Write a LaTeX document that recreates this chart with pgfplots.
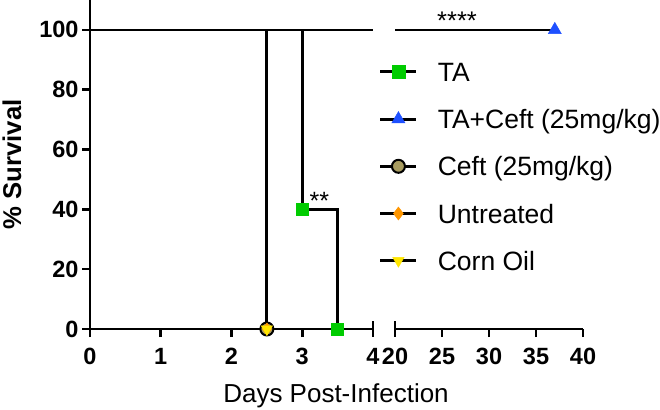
\documentclass[border=0pt]{standalone}
\usepackage{pgfplots}
\pgfplotsset{compat=1.18}
\usepackage{fontspec}
\setmainfont{Liberation Sans}
\definecolor{taGreen}{RGB}{0,204,0}
\definecolor{tcBlue}{RGB}{30,80,255}
\definecolor{ceftKhaki}{RGB}{168,156,96}
\definecolor{untOrange}{RGB}{255,150,0}
\definecolor{cornYellow}{RGB}{255,230,0}
\begin{document}
\begin{tikzpicture}
\useasboundingbox (0pt,0pt) rectangle (660pt,409pt);
\pgfplotsset{
  common/.style={
    scale only axis, ymin=0, ymax=110, clip=false,
    every tick/.style={black, line width=2.6pt},
    major tick length=8pt,
    xticklabel shift=8pt,
    /pgf/number format/assume math mode=true,
    tick label style={font=\fontsize{23.5}{25}\selectfont\bfseries},
    data/.style={black, line width=2.8pt, line join=miter},
  }
}
% ---------------- left segment (0-4 days)
\begin{axis}[common, at={(90pt,80pt)}, anchor=south west, width=283pt, height=329pt,
  xmin=0, xmax=4, axis x line=bottom, axis y line=left,
  axis line style={line width=2.8pt, -},
  tick align=outside,
  xtick={0,1,2,3}, extra x ticks={4},
  extra x tick style={tick align=center, major tick length=15pt},
  ytick={0,20,40,60,80,100},
  ylabel={\% Survival},
  every axis y label/.style={at={(axis description cs:-0.276,0.5)}, rotate=90, anchor=center,
     font=\fontsize{25.7}{28}\selectfont\bfseries},
]
% TA+Ceft
\addplot[data] coordinates {(0,100) (4,100)};
% TA
\addplot[data, mark=square*, mark indices={3,5}, mark size=6pt,
  mark options={draw=taGreen, fill=taGreen, line width=0.5pt}]
  coordinates {(0,100) (3,100) (3,40) (3.5,40) (3.5,0)};
% Ceft
\addplot[data, mark=*, mark indices={3}, mark size=6.5pt,
  mark options={draw=black, fill=ceftKhaki, line width=2pt}]
  coordinates {(0,100) (2.5,100) (2.5,0)};
% Untreated
\addplot[data, mark=diamond*, mark indices={3}, mark size=6pt,
  mark options={draw=untOrange, fill=untOrange, line width=0.5pt}]
  coordinates {(0,100) (2.5,100) (2.5,0)};
% Corn oil
\addplot[data, mark=triangle*, mark indices={3}, mark size=6.5pt,
  mark options={draw=cornYellow, fill=cornYellow, line width=0.5pt, rotate=180}]
  coordinates {(0,100) (2.5,100) (2.5,0)};
\node[anchor=base west, inner sep=0pt, font=\fontsize{25}{28}\selectfont] at (axis cs:3.1,40) {**};
\end{axis}
% ---------------- right segment (20-40 days)
\begin{axis}[common, at={(395pt,80pt)}, anchor=south west, width=188pt, height=329pt,
  xmin=20, xmax=40, axis x line=bottom, axis y line=none,
  axis line style={line width=2.8pt, -},
  tick align=outside,
  xtick={25,30,35,40}, extra x ticks={20},
  extra x tick style={tick align=center, major tick length=15pt},
  legend image code/.code={%
    \draw[mark repeat=2, mark phase=2] plot coordinates {(0pt,9.5pt) (18pt,9.5pt) (36pt,9.5pt)};},
  legend style={at={(axis description cs:-0.085,0.808)}, anchor=north west,
    draw=none, fill=none, inner sep=0pt, outer sep=0pt, row sep=26.5pt,
    font=\fontsize{26.5}{29}\selectfont,
    cells={anchor=base west},
    nodes={inner sep=0pt},
    /tikz/every odd column/.style={column sep=20pt}},
]
\addplot[data, forget plot, mark=triangle*, mark indices={2}, mark size=7.5pt,
  mark options={draw=tcBlue, fill=tcBlue, line width=0.5pt}]
  coordinates {(20,100) (37,100)};
\node[anchor=base, inner sep=0pt, font=\fontsize{25.5}{28}\selectfont] at (axis cs:26.6,100) {****};
\addlegendimage{black, line width=2.8pt, mark=square*, mark size=6.5pt,
  mark options={draw=taGreen, fill=taGreen, line width=0.5pt}}
\addlegendimage{black, line width=2.8pt, mark=triangle*, mark size=7.5pt,
  mark options={draw=tcBlue, fill=tcBlue, line width=0.5pt}}
\addlegendimage{black, line width=2.8pt, mark=*, mark size=6.5pt,
  mark options={draw=black, fill=ceftKhaki, line width=2pt}}
\addlegendimage{black, line width=2.8pt, mark=diamond*, mark size=6.5pt,
  mark options={draw=untOrange, fill=untOrange, line width=0.5pt}}
\addlegendimage{black, line width=2.8pt, mark=triangle*, mark size=6.5pt,
  mark options={draw=cornYellow, fill=cornYellow, line width=0.5pt, rotate=180}}
\legend{TA, TA+Ceft (25mg/kg), Ceft (25mg/kg), Untreated, Corn Oil}
\end{axis}
\node[anchor=base, inner sep=0pt, font=\fontsize{26}{28}\selectfont] at (336pt,7pt) {Days Post-Infection};
\end{tikzpicture}
\end{document}
